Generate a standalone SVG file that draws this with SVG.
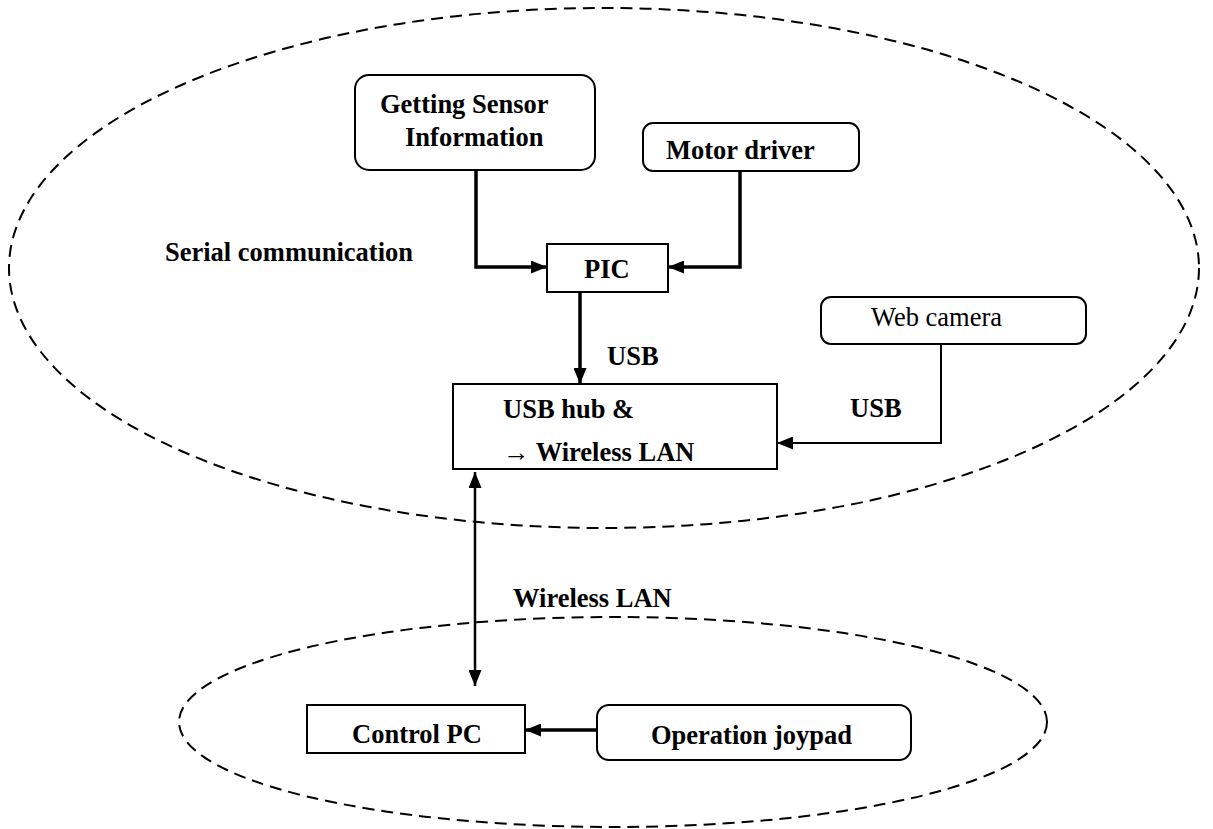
<svg xmlns="http://www.w3.org/2000/svg" width="1213" height="829" viewBox="0 0 1213 829">
  <style>
    .zone { fill: none; stroke: #000; stroke-width: 2; stroke-dasharray: 12 7; }
    .box { fill: #fff; stroke: #000; stroke-width: 2; }
    .lbl { font-family: "Liberation Serif", "Times New Roman", serif; font-size: 26.5px; font-weight: bold; fill: #000; }
    .plain { font-weight: normal; }
    .thick { fill: none; stroke: #000; stroke-width: 3.5; }
    .thin { fill: none; stroke: #000; stroke-width: 2; }
    .mid { fill: none; stroke: #000; stroke-width: 2.5; }
  </style>
  <defs>
    <marker id="arrow" viewBox="0 0 16 13" refX="16" refY="6.5" markerWidth="16" markerHeight="13" markerUnits="userSpaceOnUse" orient="auto-start-reverse">
      <path d="M0,0 L16,6.5 L0,13 Z" fill="#000"/>
    </marker>
  </defs>
  <rect width="1213" height="829" fill="#fff"/>

  <!-- dashed boundaries: robot side and operator side -->
  <g id="zones">
    <ellipse class="zone" cx="604" cy="268" rx="595" ry="260"/>
    <ellipse class="zone" cx="613" cy="722" rx="434" ry="105"/>
  </g>

  <!-- free labels -->
  <g id="labels">
    <text class="lbl" x="165" y="261">Serial communication</text>
    <text class="lbl" x="607" y="365">USB</text>
    <text class="lbl" x="850" y="417">USB</text>
    <text class="lbl" x="513" y="607">Wireless LAN</text>
  </g>

  <!-- connectors -->
  <g id="connectors">
    <path class="thick" d="M476,170 V267 H547" marker-end="url(#arrow)"/>
    <path class="thick" d="M740,170 V267 H668" marker-end="url(#arrow)"/>
    <path class="thick" d="M580,292 V384" marker-end="url(#arrow)"/>
    <path class="thin" d="M941,344 V443 H777" marker-end="url(#arrow)"/>
    <path class="mid" d="M475,472 V686" marker-start="url(#arrow)" marker-end="url(#arrow)"/>
    <path class="thick" d="M597,730 H525" marker-end="url(#arrow)"/>
  </g>

  <g id="sensor">
    <rect class="box" x="355" y="75" width="240" height="95" rx="14"/>
    <text class="lbl" x="380" y="113">Getting Sensor</text>
    <text class="lbl" x="405" y="146">Information</text>
  </g>

  <g id="motor">
    <rect class="box" x="643" y="123" width="216" height="48" rx="10"/>
    <text class="lbl" x="666" y="159">Motor driver</text>
  </g>

  <g id="pic">
    <rect class="box" x="547" y="244" width="121" height="48"/>
    <text class="lbl" x="584" y="278">PIC</text>
  </g>

  <g id="webcam">
    <rect class="box" x="821" y="297" width="265" height="47" rx="10"/>
    <text class="lbl plain" x="871" y="326">Web camera</text>
  </g>

  <g id="hub">
    <rect class="box" x="453" y="384" width="324" height="85"/>
    <text class="lbl" x="503" y="418">USB hub &amp;</text>
    <text class="lbl" x="503" y="461">→ Wireless LAN</text>
  </g>

  <g id="controlpc">
    <rect class="box" x="307" y="705" width="218" height="48"/>
    <text class="lbl" x="352" y="743">Control PC</text>
  </g>

  <g id="joypad">
    <rect class="box" x="597" y="705" width="314" height="55" rx="12"/>
    <text class="lbl" x="651" y="744">Operation joypad</text>
  </g>
</svg>
